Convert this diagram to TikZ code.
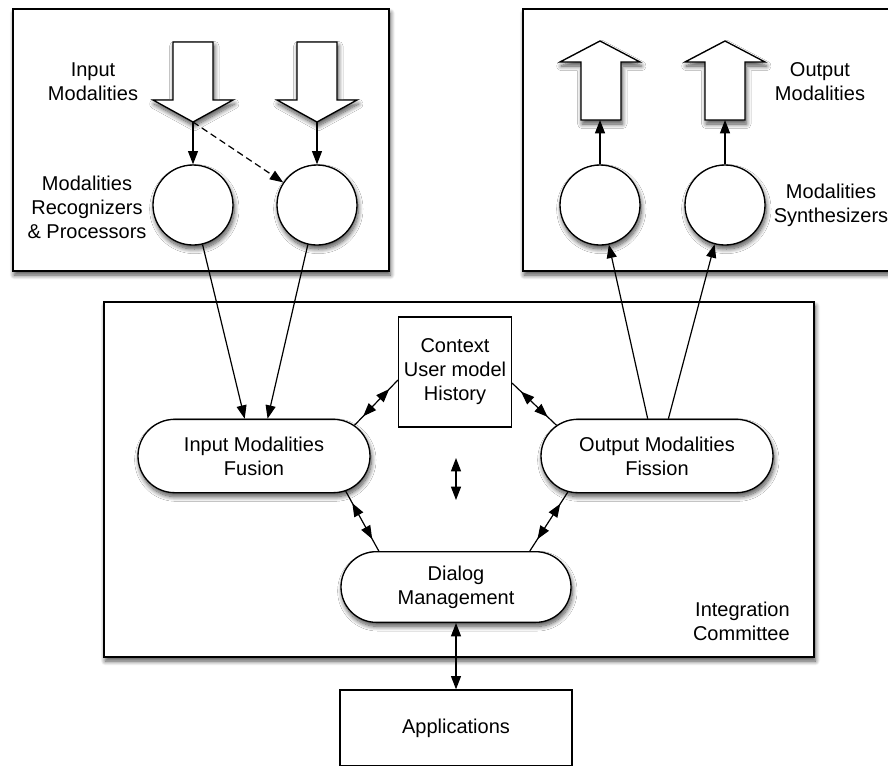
\documentclass[tikz,border=0pt]{standalone}
\usepackage{fontspec}
\setmainfont{Liberation Sans}
\usetikzlibrary{arrows.meta,shapes.misc,shadows,shadows.blur,decorations.markings}
\begin{document}
\begin{tikzpicture}[x=0.75pt,y=-0.75pt,
  >={Triangle[length=10pt,width=7.5pt,fill=black,color=black]},
  shd/.style={blur shadow={shadow xshift=1pt, shadow yshift=-3pt, shadow blur radius=3.5pt, shadow blur steps=10, shadow opacity=70}},
  txt/.style={font=\fontsize{15}{18}\selectfont, align=center, inner sep=0pt},
  panel/.style={draw, line width=1.4pt, fill=white, shd},
  blk/.style={draw, line width=1pt, fill=white, line join=miter, shd},
  circ/.style={circle, draw, line width=1pt, fill=white, minimum size=60pt, inner sep=0pt, shd},
  proc/.style={rounded rectangle, draw, line width=1pt, fill=white, minimum width=174pt, minimum height=55pt, txt, shd},
  ctx/.style={rectangle, draw, line width=0.9pt, fill=white, minimum width=84.75pt, minimum height=82.5pt, txt},
  appbox/.style={rectangle, draw, line width=1pt, fill=white, minimum width=174pt, minimum height=57pt, txt},
  conn/.style={draw=black, line width=0.9pt},
  mid2/.style={conn, postaction={decorate, decoration={markings,
      mark=at position 0.2 with {\arrowreversed{>}},
      mark=at position 0.8 with {\arrow{>}}}}}
]
\useasboundingbox (0,0) rectangle (888,765);
\clip (0,0) rectangle (888,765);

% panels
\path[panel] (13,9) rectangle (389,271);
\path[panel] (523,9) rectangle (905,271);
\path[panel] (104,302) rectangle (814,657);

% input block arrows
\path[blk] (173,42) -- (213,42) -- (213,100) -- (233,100) -- (193,122) -- (153,100) -- (173,100) -- cycle;
\path[blk] (297,42) -- (337,42) -- (337,100) -- (357,100) -- (317,122) -- (277,100) -- (297,100) -- cycle;
\coordinate (in1) at (193,122);
\coordinate (in2) at (317,122);

% output block arrows
\path[blk] (581,120) -- (621,120) -- (621,62) -- (640,62) -- (600,41) -- (560,62) -- (581,62) -- cycle;
\path[blk] (705,120) -- (745,120) -- (745,62) -- (765,62) -- (725,41) -- (685,62) -- (705,62) -- cycle;
\coordinate (out1) at (600,120);
\coordinate (out2) at (725,120);

% circles
\node[circ] (c1) at (193,205) {};
\node[circ] (c2) at (317,205) {};
\node[circ] (s1) at (600,205) {};
\node[circ] (s2) at (725,205) {};

% labels
\node[txt] (lin) at (93,82) {Input\\Modalities};
\node[txt] (lrec) at (87,207) {Modalities\\Recognizers\\\& Processors};
\node[txt] (lout) at (820,82) {Output\\Modalities};
\node[txt] (lsyn) at (831,205) {Modalities\\Synthesizers};
\node[txt, anchor=east, align=right] (lint) at (790,621) {Integration\\Committee};

% central nodes
\node[ctx] (context) at (455,372) {Context\\User model\\History};
\node[proc] (fusion) at (254,456) {Input Modalities\\Fusion};
\node[proc] (fission) at (657,456) {Output Modalities\\Fission};
\node[proc, minimum width=172.5pt, minimum height=53pt] (dialog) at (456,587) {Dialog\\Management};
\node[appbox] (apps) at (456,728) {Applications};

% connectors
\draw[conn,->] (in1) -- (c1);
\draw[conn,->,dashed,dash pattern=on 5pt off 3pt] (in1) -- (c2);
\draw[conn,->] (in2) -- (c2);
\draw[conn,->] (c1) -- (fusion.104);
\draw[conn,->] (c2) -- (fusion.70);
\draw[conn,->] (fission.104) -- (s1);
\draw[conn,->] (fission.73) -- (s2);
\draw[conn,->] (s1) -- (out1);
\draw[conn,->] (s2) -- (out2);
\draw[mid2] (fusion.17) -- (context.188);
\draw[mid2] (fission.163) -- (context.-11);
\draw[mid2] (fusion.-21) -- (dialog.155);
\draw[mid2] (fission.-158) -- (dialog.26);
\draw[conn,<->] (dialog.south) -- (apps.north);
\coordinate (m1) at (456,458);
\coordinate (m2) at (456,500);
\draw[conn,<->] (m1) -- (m2);
\end{tikzpicture}
\end{document}
